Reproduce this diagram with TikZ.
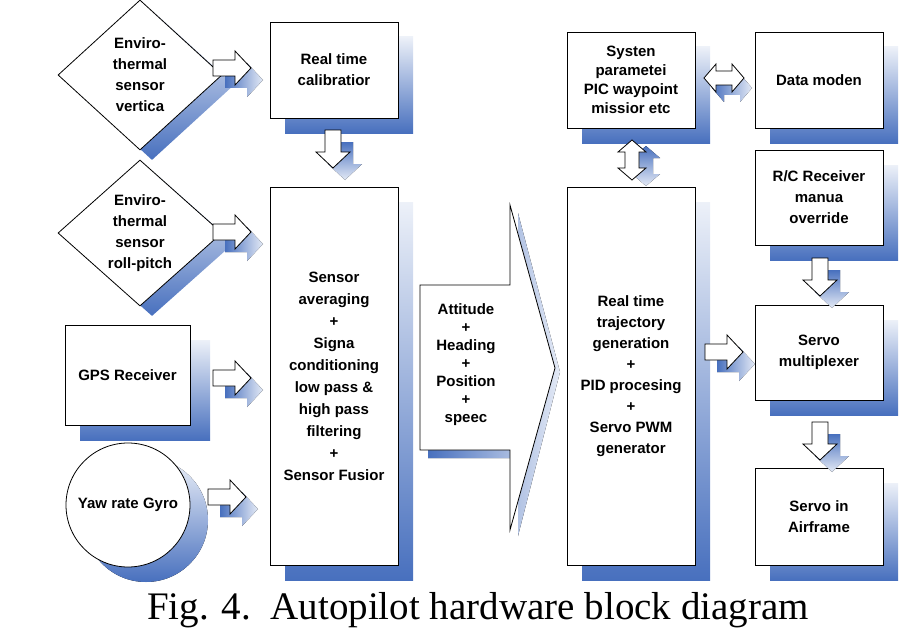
\documentclass[tikz,border=0pt]{standalone}
\usepackage{fontspec}
\setmainfont{Liberation Serif}
\newfontfamily\boxfont{Liberation Sans}
\usetikzlibrary{shapes.geometric}
\definecolor{shblue}{RGB}{72,112,190}
\tikzset{
  boxtext/.style={align=center,font=\boxfont\bfseries\fontsize{15}{21}\selectfont},
  box/.style={draw,thick,fill=white,rectangle,boxtext,inner sep=2pt},
  shade box/.style={top color=shblue!10,bottom color=shblue,draw=none},
  shade arrow/.style={left color=shblue,right color=shblue!15,draw=none},
  shade darrow/.style={top color=shblue,bottom color=shblue!15,draw=none},
  pics/rightarrow/.style={code={
    \fill[shade arrow,shift={(12,12)}] (0,-8)--(22,-8)--(22,-17)--(38,0)--(22,17)--(22,8)--(0,8)--cycle;
    \draw[thick,fill=white] (0,-8)--(22,-8)--(22,-17)--(38,0)--(22,17)--(22,8)--(0,8)--cycle;
  }},
  pics/downarrow/.style={code={
    \fill[shade darrow,shift={(12,12)}] (-8,0)--(-8,22)--(-17,22)--(0,38)--(17,22)--(8,22)--(8,0)--cycle;
    \draw[thick,fill=white] (-8,0)--(-8,22)--(-17,22)--(0,38)--(17,22)--(8,22)--(8,0)--cycle;
  }},
  pics/hdblarrow/.style={code={
    \fill[shade arrow,shift={(8,10)}] (0,0)--(12,-14)--(12,-7)--(28,-7)--(28,-14)--(40,0)--(28,14)--(28,7)--(12,7)--(12,14)--cycle;
    \draw[thick,fill=white] (0,0)--(12,-14)--(12,-7)--(28,-7)--(28,-14)--(40,0)--(28,14)--(28,7)--(12,7)--(12,14)--cycle;
  }},
  pics/vdblarrow/.style={code={
    \fill[shade darrow,shift={(14,6)}] (0,0)--(-14,12)--(-7,12)--(-7,28)--(-14,28)--(0,40)--(14,28)--(7,28)--(7,12)--(14,12)--cycle;
    \draw[thick,fill=white] (0,0)--(-14,12)--(-7,12)--(-7,28)--(-14,28)--(0,40)--(14,28)--(7,28)--(7,12)--(14,12)--cycle;
  }}
}
\begin{document}
\begin{tikzpicture}[x=1pt,y=-1pt]
\useasboundingbox (0,0) rectangle (922,642);

% shadows
\node[diamond,shade box,minimum width=164pt,minimum height=150pt,inner sep=0] at (152,85) {};
\node[diamond,shade box,minimum width=164pt,minimum height=146pt,inner sep=0] at (152,243) {};
\fill[shade box] (80,340) rectangle (210,440);
\fill[shade box] (146,520) circle (62);
\foreach \xa/\ya/\xb/\yb in {270/22/398/118, 270/187/398/565, 567/32/695/128, 755/32/883/128,
    755/150/883/245, 755/305/883/400, 755/468/883/565, 567/187/695/565}
  \fill[shade box] (\xa+15,\ya+15) rectangle (\xb+15,\yb+15);
\fill[shade arrow] (428,293)--(518,293)--(518,213)--(560,372)--(518,536)--(518,458)--(428,458)--cycle;

% blocks
\node[diamond,draw,thick,fill=white,minimum width=164pt,minimum height=150pt,inner sep=0,
  boxtext] (vert) at (140,75) {Enviro-\\thermal\\sensor\\vertica};
\node[diamond,draw,thick,fill=white,minimum width=164pt,minimum height=146pt,inner sep=0,
  boxtext] (roll) at (140,233) {Enviro-\\thermal\\sensor\\roll-pitch};
\node[box,minimum width=125pt,minimum height=100pt] (gps) at (127.5,375) {GPS Receiver};
\node[circle,draw,thick,fill=white,minimum size=124pt,inner sep=0,boxtext] (gyro) at (128,505)
  {Yaw rate Gyro};
\node[box,minimum width=128pt,minimum height=96pt] (calib) at (334,70) {Real time\\calibratior};
\node[box,minimum width=128pt,minimum height=378pt,font=\boxfont\bfseries\fontsize{15}{22}\selectfont]
  (fusion) at (334,376)
  {Sensor\\averaging\\+\\Signa\\conditioning\\low pass \&\\high pass\\filtering\\+\\Sensor Fusior};
\draw[thick,fill=white] (420,285)--(510,285)--(510,205)--(555,368)--(510,530)--(510,450)--(420,450)--cycle;
\node[boxtext,font=\boxfont\bfseries\fontsize{15}{18}\selectfont] (state) at (466,365)
  {Attitude\\+\\Heading\\+\\Position\\+\\speec};
\node[box,minimum width=128pt,minimum height=96pt,font=\boxfont\bfseries\fontsize{15}{19}\selectfont]
  (param) at (631,80) {Systen\\parametei\\PIC  waypoint\\missior  etc};
\node[box,minimum width=128pt,minimum height=96pt] (modem) at (819,80) {Data moden};
\node[box,minimum width=128pt,minimum height=95pt] (rc) at (819,197.5) {R/C Receiver\\manua\\override};
\node[box,minimum width=128pt,minimum height=95pt] (mux) at (819,352.5) {Servo\\multiplexer};
\node[box,minimum width=128pt,minimum height=97pt] (servo) at (819,516.5) {Servo in\\Airframe};
\node[box,minimum width=128pt,minimum height=378pt] (traj) at (631,376)
  {Real time\\trajectory\\generation\\+\\PID procesing\\+\\Servo PWM\\generator};

% block arrows
\pic at (213,68) {rightarrow};
\pic at (213,232) {rightarrow};
\pic at (213,378) {rightarrow};
\pic at (208,497) {rightarrow};
\pic at (333,130) {downarrow};
\pic at (705,352) {rightarrow};
\pic at (820,258) {downarrow};
\pic at (820,422) {downarrow};
\pic at (704,78) {hdblarrow};
\pic at (632,140) {vdblarrow};

\node[font=\fontsize{39}{42}\selectfont] (cap) at (478,610) {Fig. 4.\ \ Autopilot hardware block diagram};
\end{tikzpicture}
\end{document}
